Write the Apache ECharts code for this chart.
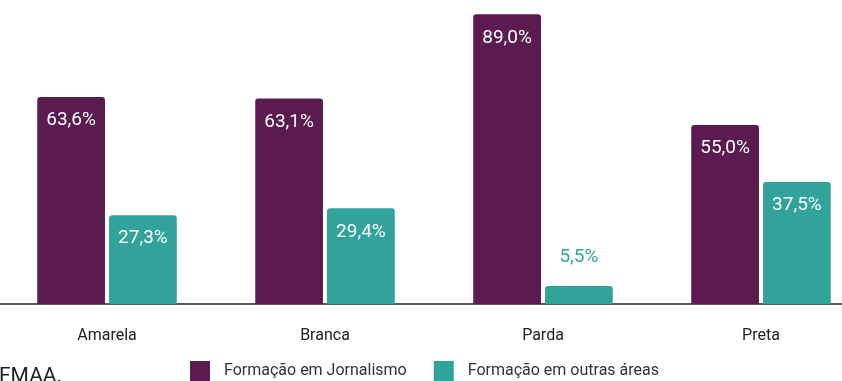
<!DOCTYPE html>
<html>
<head>
<meta charset="utf-8">
<script src="https://cdn.jsdelivr.net/npm/echarts@6/dist/echarts.min.js"></script>
<style>
  html, body { margin: 0; padding: 0; background: #fff; overflow: hidden; width: 842px; height: 381px; }
  #chart { width: 872px; height: 381px; margin-left: -2px; }
</style>
</head>
<body>
<div id="chart"></div>
<script>
  // dados
  var categorias = ['Amarela', 'Branca', 'Parda', 'Preta'];
  var jornalismo = [63.6, 63.1, 89.0, 55.0];
  var outrasAreas = [27.3, 29.4, 5.5, 37.5];
  var nomesSeries = ['Formação em Jornalismo', 'Formação em outras áreas'];

  var roxo = '#5b1a50';
  var verde = '#31a39a';

  function fmt(v) {
    return v.toFixed(1).replace('.', ',') + '%';
  }

  // rótulo dentro da barra, ou fora se a barra for baixa
  function pontos(valores, cor) {
    return valores.map(function (v) {
      if (v < 10) {
        return { value: v, label: { position: 'top', distance: 19, color: cor } };
      }
      return v;
    });
  }

  var myChart = echarts.init(document.getElementById('chart'));
  myChart.setOption({
    animation: false,
    textStyle: { fontFamily: 'Roboto' },
    grid: { left: 0, right: 0, top: 0, bottom: 77 },
    legend: {
      data: nomesSeries,
      top: 361,
      left: 192,
      padding: 0,
      itemWidth: 20,
      itemHeight: 20,
      itemGap: 27,
      icon: 'rect',
      textStyle: { fontSize: 16, color: '#333', padding: [0, 0, 0, 9] }
    },
    graphic: [{
      type: 'text',
      left: 1,
      top: 366,
      style: { text: 'FMAA.', fontSize: 21, fill: '#222', fontFamily: 'Roboto' }
    }],
    xAxis: [
      {
        type: 'category',
        data: categorias,
        axisLine: { lineStyle: { color: '#222', width: 1.5 } },
        axisTick: { alignWithLabel: true, length: 10, lineStyle: { color: '#222' } },
        axisLabel: { fontSize: 16, color: '#222', margin: 24 }
      },
      {
        // só para os tiques que sobem acima da linha
        type: 'category',
        data: categorias,
        position: 'bottom',
        axisLine: { show: false },
        axisTick: { alignWithLabel: true, inside: true, length: 9, lineStyle: { color: '#222' } },
        axisLabel: { show: false }
      }
    ],
    yAxis: {
      type: 'value',
      min: 0,
      max: 93.4,
      show: false,
      splitLine: { show: false }
    },
    series: [
      {
        name: nomesSeries[0],
        type: 'bar',
        data: pontos(jornalismo, roxo),
        itemStyle: { color: roxo, borderRadius: [3, 3, 0, 0] },
        barGap: '6%',
        barCategoryGap: '36%',
        label: { show: true, position: 'insideTop', distance: 14, color: '#fff', fontSize: 19, formatter: function (p) { return fmt(p.value); } }
      },
      {
        name: nomesSeries[1],
        type: 'bar',
        data: pontos(outrasAreas, verde),
        itemStyle: { color: verde, borderRadius: [3, 3, 0, 0] },
        barGap: '6%',
        barCategoryGap: '36%',
        label: { show: true, position: 'insideTop', distance: 14, color: '#fff', fontSize: 19, formatter: function (p) { return fmt(p.value); } }
      }
    ]
  });
</script>
</body>
</html>
